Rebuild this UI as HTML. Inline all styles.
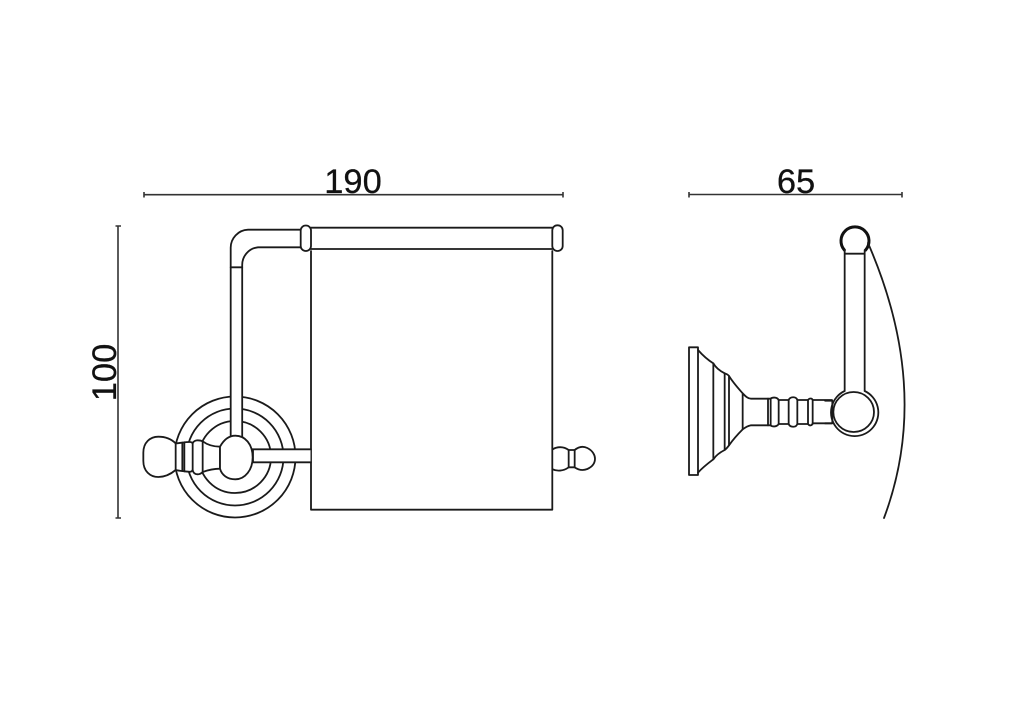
<!DOCTYPE html>
<html><head><meta charset="utf-8"><style>
html,body{margin:0;padding:0;background:#fff}
svg{display:block}
text{font-family:"Liberation Sans",sans-serif;font-size:34.5px;fill:#111;stroke:#111;stroke-width:.25}
.l{fill:none;stroke:#1a1a1a;stroke-width:1.8;stroke-linejoin:round;stroke-linecap:round}
.z{fill:none;stroke:#1a1a1a;stroke-width:5.4;stroke-linejoin:round;stroke-linecap:round}
.y{fill:#fff;stroke:#1a1a1a;stroke-width:5.4;stroke-linejoin:round;stroke-linecap:round}
.d{fill:none;stroke:#333;stroke-width:1.6}
</style></head><body>
<svg width="1024" height="723" viewBox="0 0 1024 723" xmlns="http://www.w3.org/2000/svg">
<rect width="1024" height="723" fill="#fff"/>

<!-- dimensions -->
<path class="d" d="M144,194.7H563M144,192v5.5M563,192v5.5"/>
<path class="d" d="M689,194.5H902M689,192v5.5M902,192v5.5"/>
<path class="d" d="M118,226V518M115.500,226h5.500M115.500,518h5.500"/>
<text x="353" y="193" text-anchor="middle">190</text>
<text x="796" y="193" text-anchor="middle">65</text>
<text transform="translate(116,372.500) rotate(-90)" text-anchor="middle">100</text>

<!-- front view: rosette rings -->
<circle class="l" cx="235" cy="457" r="60.500"/>
<circle class="l" cx="235" cy="457" r="48.500"/>
<circle class="l" cx="235" cy="457" r="36"/>

<!-- top rail, elbow -->
<rect x="231" y="380" width="11" height="60" fill="#fff"/>
<path class="l" d="M230.700,438V248A18,18 0 0 1 248,229.700H300.700"/>
<path class="l" d="M242.200,438V265A17.700,17.700 0 0 1 258,247.300H300.700"/>
<path class="l" d="M230.700,267.300H242.200"/>
<rect class="l" x="300.700" y="225.500" width="10.300" height="25.500" rx="5" ry="5"/>
<path class="l" d="M311,227.700H552.300M311,249H552.300"/>
<rect class="l" x="552.300" y="225.300" width="10.400" height="25.700" rx="5" ry="5"/>

<!-- cover -->
<path class="l" d="M311,251V509.700H552.300V251"/>

<!-- arm to cover -->
<rect x="253" y="449" width="57.500" height="13.300" fill="#fff"/>
<path class="l" d="M252,449.300H311M252,462.300H311M253,449.300V462.300"/>

<!-- centre ball and left knob -->
<g transform="translate(130,380) scale(.33333)">
  <path class="y" d="M137,190C125,178 108,170 85,170C60,170 40,188 40,218V243C40,273 60,291 85,291C108,291 125,280 137,270C145,272 155,273 163,274C176,275 184,278 188,270C190,280 197,283 203,283C208,283 212,282 218,276C234,270 250,266 270,266V200C250,200 234,196 218,184C212,181 208,181 203,181C197,181 190,184 188,190C184,184 176,186 163,187C155,188 145,190 137,190Z"/>
  <path class="z" d="M137,190V270M157,188V273M163,187V274M188,190V270M218,184V276"/>
  <path class="y" d="M270,200C282,178 298,167 316,167C345,167 368,192 368,232C368,270 345,298 316,298C292,298 275,285 270,266Z"/>
</g>

<!-- right small knob -->
<g transform="translate(530,430) scale(.33333)">
  <path class="z" d="M68,58C80,50 100,48 116,60H134C146,50 160,48 172,54C188,62 195,75 195,86C195,100 188,110 172,117C160,122 146,120 134,112H116C100,124 80,124 68,118"/>
  <path class="z" d="M116,60V112M134,60V112"/>
</g>

<!-- side view: wall plate and neck -->
<g transform="translate(680,340) scale(.33333)">
  <rect class="z" x="27" y="22" width="27" height="383"/>
  <path class="z" d="M54,30C68,46 84,60 100,70C108,84 122,94 134,100C140,102 144,104 147,108C158,126 172,142 188,160C196,168 202,175 212,176H272C276,172 290,170 296,180H326C330,170 348,168 352,180H384C388,174 396,174 398,180H456"/>
  <path class="z" d="M54,398C68,382 84,370 100,358C108,346 122,336 134,330C140,326 144,320 147,316C158,300 172,284 188,268C196,262 202,258 212,256H272C276,260 290,262 296,252H326C330,262 348,264 352,252H384C388,258 396,258 398,250H456"/>
  <path class="z" d="M100,70V358M134,100V330M147,108V316M188,160V268M264,176V256M272,176V256M296,180V252M326,180V252M352,180V252M384,180V252M398,180V252"/>
</g>

<!-- side view: top ball, arm, lower ring -->
<g transform="translate(825,215) scale(.33333)">
  <path fill="none" stroke="#111" stroke-width="9" stroke-linecap="round" d="M58,105A42,42 0 1 1 122,105"/>
  <path class="z" d="M59,105V116H119V105M59,116V528M119,116V528"/>
</g>
<g transform="translate(825,370) scale(.33333)">
  <path class="z" d="M59,63A71,71 0 1 0 119,63"/>
  <ellipse class="z" cx="86" cy="126" rx="61" ry="60"/>
  <path class="z" d="M0,92H22V160H0"/>
</g>

<!-- side view: swing arc -->
<path class="l" d="M868,243Q932,390 884,518"/>
</svg>
</body></html>
